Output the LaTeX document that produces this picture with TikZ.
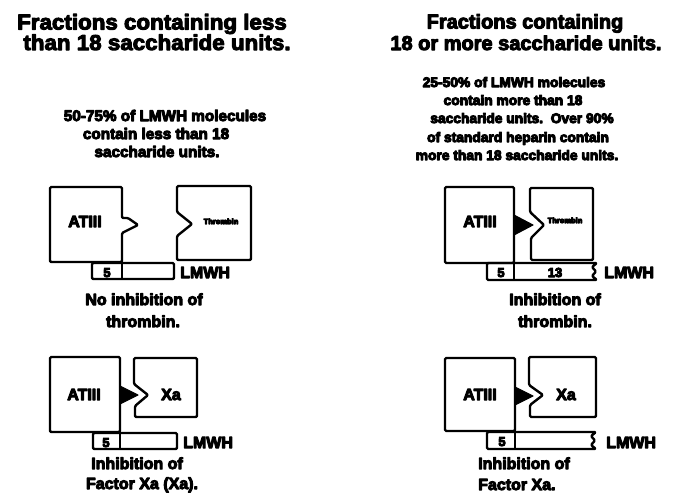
\documentclass[tikz,border=0pt]{standalone}
\usepackage{fontspec}
\setmainfont{Liberation Sans}
\newfontfamily\heavy{Liberation Sans Bold}
\begin{document}
\begin{tikzpicture}[x=1pt,y=-1pt,
  shp/.style={draw=black,line width=2.4pt,line join=round,rounded corners=1.2pt},
  arrowfill/.style={fill=black,draw=black,line width=1pt,line join=round},
  txt/.style={inner sep=0pt,anchor=base,font=\heavy,
    execute at begin node={\special{pdf:literal direct 2 Tr 1.0 w 1 j}},
    execute at end node={\special{pdf:literal direct 0 Tr}}},
  head/.style={txt,font=\heavy\fontsize{20}{21}\selectfont},
  headl/.style={txt,font=\heavy\fontsize{21.5}{22}\selectfont\addfontfeatures{FakeStretch=1.04}},
  para/.style={txt,font=\heavy\fontsize{13.8}{15}\selectfont},
  paral/.style={txt,font=\heavy\fontsize{15.3}{17}\selectfont},
  lab/.style={txt,font=\heavy\fontsize{16}{17}\selectfont},
  captxt/.style={txt,font=\heavy\fontsize{16}{17}\selectfont},
  num/.style={txt,font=\heavy\fontsize{13}{14}\selectfont},
  tinytxt/.style={txt,font=\heavy\fontsize{7.5}{8}\selectfont}]
\useasboundingbox (0,0) rectangle (696,501);

% ---------- headings ----------
\node[headl] (hl1) at (152,29.5) {Fractions containing less};
\node[headl] (hl2) at (157,50) {than 18 saccharide units.};
\node[head] (hr1) at (525,28.5) {Fractions containing};
\node[head] (hr2) at (526,50) {18 or more saccharide units.};

% ---------- paragraphs ----------
\node[paral] (pl1) at (165,121) {50-75\% of LMWH molecules};
\node[paral] (pl2) at (156,139) {contain less than 18};
\node[paral] (pl3) at (157,157) {saccharide units.};

\node[para] (pr1) at (514,87) {25-50\% of LMWH molecules};
\node[para] (pr2) at (513,105) {contain more than 18};
\node[para] (pr3) at (522,123) {saccharide units.\ \ Over 90\%};
\node[para] (pr4) at (518,142) {of standard heparin contain};
\node[para] (pr5) at (517,160) {more than 18 saccharide units.};

% ---------- top left: no inhibition of thrombin ----------
\draw[shp] (50,187) -- (122,187) -- (122,218) -- (128,218) -- (138,225) -- (122,233) -- (122,262) -- (50,262) -- cycle;
\draw[shp] (177,186) -- (251,186) -- (251,260) -- (177,260) -- (177,236) -- (192,224) -- (177,212) -- cycle;
\draw[shp] (92,263) rectangle (174,279);
\draw[shp] (122,263) -- (122,279);
\node[lab] (a1) at (85,227) {ATIII};
\node[tinytxt] (t1) at (221,224) {Thrombin};
\node[num] (n1) at (107,277) {5};
\node[lab] (l1) at (180,278) [anchor=base west] {LMWH};
\node[captxt] (c1a) at (144,305) {No inhibition of};
\node[captxt] (c1b) at (143,327) {thrombin.};

% ---------- top right: inhibition of thrombin ----------
\draw[shp] (445,187) rectangle (514,263);
\draw[arrowfill] (514,215) -- (533,225) -- (514,235) -- cycle;
\draw[shp] (530,188) -- (593,188) -- (593,260) -- (531,260) -- (531,238) -- (544,225) -- (530,212) -- cycle;
\draw[shp] (597,263) -- (487,263) -- (487,280) -- (597,280) -- (592,276) -- (596,271.5) -- (592,267) -- cycle;
\draw[shp] (514,263) -- (514,280);
\node[lab] (a2) at (480,227) {ATIII};
\node[tinytxt] (t2) at (565,223) {Thrombin};
\node[num] (n2a) at (501,277) {5};
\node[num] (n2b) at (555,277) {13};
\node[lab] (l2) at (604,278) [anchor=base west] {LMWH};
\node[captxt] (c2a) at (555,305) {Inhibition of};
\node[captxt] (c2b) at (555,327) {thrombin.};

% ---------- bottom left: inhibition of factor Xa ----------
\draw[shp] (50,357) rectangle (120,432);
\draw[arrowfill] (120,386) -- (138,395) -- (120,404) -- cycle;
\draw[shp] (134,358) -- (197,358) -- (197,417) -- (135,417) -- (135,406) -- (148,395) -- (134,384) -- cycle;
\draw[shp] (93,433) rectangle (177,449);
\draw[shp] (120,433) -- (120,449);
\node[lab] (a3) at (84,400) {ATIII};
\node[lab] (x3) at (171,400) {Xa};
\node[num] (n3) at (106,447) {5};
\node[lab] (l3) at (183,448) [anchor=base west] {LMWH};
\node[captxt] (c3a) at (137,469) {Inhibition of};
\node[captxt] (c3b) at (142,489) {Factor Xa (Xa).};

% ---------- bottom right: inhibition of factor Xa ----------
\draw[shp] (445,358) rectangle (515,431);
\draw[arrowfill] (515,387) -- (533,396) -- (515,405) -- cycle;
\draw[shp] (529,357) -- (596,357) -- (596,417) -- (530,417) -- (530,405) -- (543,395) -- (529,385) -- cycle;
\draw[shp] (596,432) -- (487,432) -- (487,449) -- (596,449) -- (591,445) -- (595,440.5) -- (591,436) -- cycle;
\draw[shp] (515,432) -- (515,449);
\node[lab] (a4) at (480,400) {ATIII};
\node[lab] (x4) at (566,400) {Xa};
\node[num] (n4) at (502,446) {5};
\node[lab] (l4) at (606,448) [anchor=base west] {LMWH};
\node[captxt] (c4a) at (478,469) [anchor=base west] {Inhibition of};
\node[captxt] (c4b) at (478,490) [anchor=base west] {Factor Xa.};
\end{tikzpicture}
\end{document}
